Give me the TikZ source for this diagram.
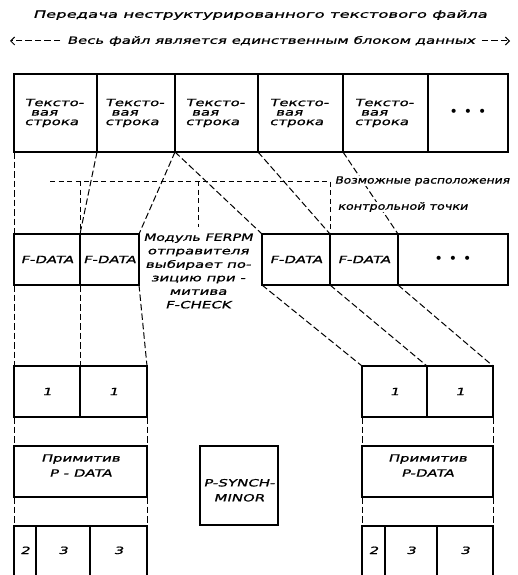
\documentclass[tikz,border=0pt]{standalone}
\usepackage{fontspec}
\usepackage{graphicx}
\newfontfamily\gost[FakeStretch=1.5,FakeSlant=0.25,FakeBold=1]{DejaVu Sans}
\newfontfamily\dotfont{DejaVu Sans}
\usetikzlibrary{arrows.meta}
\newcommand\mkbox[7][]{%
  \pgfmathsetmacro\mkbw{#5-#3}%
  \pgfmathsetmacro\mkbh{#6-#4}%
  \pgfmathsetmacro\mkcx{(#3+#5)/2}%
  \pgfmathsetmacro\mkcy{(#4+#6)/2}%
  \node[box,#1,minimum width=\mkbw pt,minimum height=\mkbh pt] (#2) at (\mkcx,\mkcy) {#7};}
\begin{document}
\begin{tikzpicture}[x=1pt,y=-1pt,
  txt/.style={font=\gost\fontsize{10}{10}\selectfont, inner sep=0.5pt},
  box/.style={draw, line width=1.4pt, inner sep=0pt, outer sep=0pt, align=center,
    font=\gost\fontsize{10}{9.5}\selectfont},
  topbox/.style={text width=62pt, align=left},
  twoline/.style={font=\gost\fontsize{10}{15}\selectfont},
  bot/.style={text height=7pt, text depth=15pt},
  dots/.style={font=\dotfont\fontsize{14}{14}\selectfont},
  conn/.style={line width=1pt, dash pattern=on 6.5pt off 3pt},
  guide/.style={line width=0.9pt, dash pattern=on 5pt off 3.5pt},
]
\clip (0,0) rectangle (517,575);
% header
\node[txt] (title) at (260,15)
  {\scalebox{1.1}[1]{Передача неструктурированного текстового файла}};
\node[txt] (whole) at (271,41) {Весь файл является единственным блоком данных};
\coordinate (la) at (10,41);
\coordinate (ra) at (510,41);
\draw[conn, shorten <=6pt, -{Straight Barb[length=4pt,width=8pt]}] (whole.west) -- (la);
\draw[conn, shorten <=6pt, -{Straight Barb[length=4pt,width=8pt]}] (whole.east) -- (ra);
% top row
\mkbox[topbox]{t1}{14}{74}{97}{152}{Тексто-\\\hspace*{6pt}вая\\строка}
\mkbox[topbox]{t2}{97}{74}{175}{152}{Тексто-\\\hspace*{6pt}вая\\строка}
\mkbox[topbox]{t3}{175}{74}{258}{152}{Тексто-\\\hspace*{6pt}вая\\строка}
\mkbox[topbox]{t4}{258}{74}{343}{152}{Тексто-\\\hspace*{6pt}вая\\строка}
\mkbox[topbox]{t5}{343}{74}{428}{152}{Тексто-\\\hspace*{6pt}вая\\строка}
\mkbox[dots]{t6}{428}{74}{508}{152}{•\hspace{6pt}•\hspace{6pt}•}
% F-DATA row
\mkbox{f1}{14}{234}{80}{285}{F-DATA}
\mkbox{f2}{80}{234}{139}{285}{F-DATA}
\mkbox{f3}{262}{234}{330}{285}{F-DATA}
\mkbox{f4}{330}{234}{398}{285}{F-DATA}
\mkbox[dots]{f5}{398}{234}{508}{285}{•\hspace{6pt}•\hspace{6pt}•}
% row 1
\mkbox{o1}{14}{366}{80}{417}{1}
\mkbox{o2}{80}{366}{147}{417}{1}
\mkbox{o3}{362}{366}{427}{417}{1}
\mkbox{o4}{427}{366}{493}{417}{1}
% P-DATA
\mkbox[twoline]{pl}{14}{446}{147}{497}{Примитив\\P - DATA\rule[-12pt]{0pt}{12pt}}
\mkbox[twoline]{pr}{362}{446}{493}{497}{Примитив\\P-DATA\rule[-12pt]{0pt}{12pt}}
\mkbox[twoline]{ps}{200}{446}{278}{525}{\rule{0pt}{17pt}P-SYNCH-\\MINOR}
% bottom
\mkbox[bot]{b1}{14}{526}{36}{590}{2}
\mkbox[bot]{b2}{36}{526}{90}{590}{3}
\mkbox[bot]{b3}{90}{526}{147}{590}{3}
\mkbox[bot]{b4}{362}{526}{385}{590}{2}
\mkbox[bot]{b5}{385}{526}{437}{590}{3}
\mkbox[bot]{b6}{437}{526}{493}{590}{3}
% middle text
\node[txt, align=center, font=\gost\fontsize{10}{13.5}\selectfont] (mid) at (198,271)
  {\scalebox{0.95}[1]{Модуль FERPM}\\отправителя\\выбирает по-\\зицию при -\\митива\\F-CHECK};
% connectors
\draw[conn] (t1.south west) -- (f1.north west);
\draw[conn] (t2.south west) -- (f2.north west);
\draw[conn] (t3.south west) -- (f2.north east);
\draw[conn] (t3.south west) -- (f3.north west);
\draw[conn] (t4.south west) -- (f4.north west);
\draw[conn] (t5.south west) -- (f5.north west);
\draw[conn] (f1.south west) -- (o1.north west);
\draw[conn] (f2.south west) -- (o2.north west);
\draw[conn] (f2.south east) -- (o2.north east);
\draw[conn] (f3.south west) -- (o3.north west);
\draw[conn] (f4.south west) -- (o4.north west);
\draw[conn] (f5.south west) -- (o4.north east);
\draw[conn] (o1.south west) -- (pl.north west);
\draw[conn] (o2.south east) -- (pl.north east);
\draw[conn] (o3.south west) -- (pr.north west);
\draw[conn] (o4.south east) -- (pr.north east);
\draw[conn] (pl.south west) -- (b1.north west);
\draw[conn] (pl.south east) -- (b3.north east);
\draw[conn] (pr.south west) -- (b4.north west);
\draw[conn] (pr.south east) -- (b6.north east);
% check-point guide
\coordinate (g0) at (50,181);
\draw[guide] (g0) -- (g0 -| f4.north west) -- (f4.north west);
\draw[guide] (g0 -| f2.north west) -- (f2.north west);
\draw[guide, shorten >=6pt] (g0 -| mid.north) -- (mid.north);
\node[txt, fill=white, anchor=west] (lab1) at (334,181) {\scalebox{0.82}[1]{Возможные расположения}};
\node[txt, fill=white, anchor=west] (lab2) at (337,207) {\scalebox{0.85}[1]{контрольной точки}};
\end{tikzpicture}
\end{document}
